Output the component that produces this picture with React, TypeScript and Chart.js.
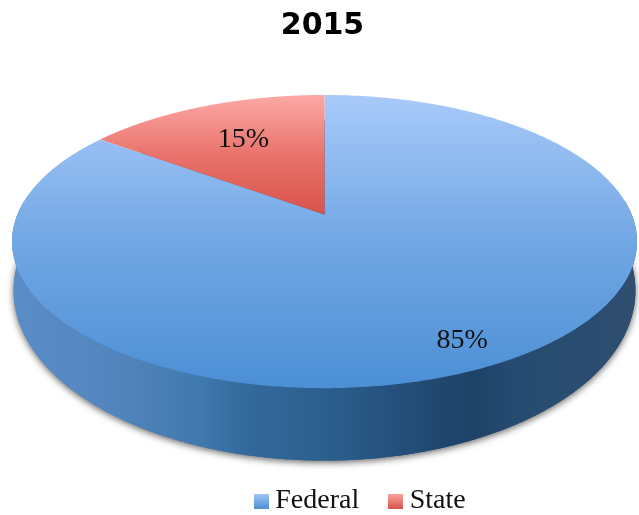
import React, { useEffect, useRef } from "react";
import { Chart, registerables } from "chart.js";

Chart.register(...registerables);

const title = "2015";
const categories = ["Federal", "State"];
const shares = [85, 15];

const topColors = [
  ["#a8cafa", "#72a7e4", "#4b8fd5"],
  ["#fca9a5", "#e9736c", "#d8534a"],
];
const legendColors = [
  ["#a4c8f7", "#4f90d6"],
  ["#f9a6a1", "#d9564c"],
];
const wallStops: [number, string][] = [
  [0, "#5a8dc7"],
  [0.12, "#5588c1"],
  [0.2, "#4f82b9"],
  [0.3, "#4079ad"],
  [0.38, "#33699b"],
  [0.5, "#2c5f8e"],
  [0.6, "#26527f"],
  [0.68, "#21476f"],
  [0.74, "#1f4367"],
  [0.8, "#264a70"],
  [0.86, "#284d70"],
  [0.92, "#2a4c71"],
  [1, "#304e70"],
];

const P = 0.185; // perspective strength
const labelRadius = [0.86, 0.66];

function swatch(colors: string[]) {
  const c = document.createElement("canvas");
  c.width = 15;
  c.height = 15;
  const g = c.getContext("2d")!;
  const lg = g.createLinearGradient(0, 0, 0, 15);
  lg.addColorStop(0, colors[0]);
  lg.addColorStop(1, colors[1]);
  g.fillStyle = lg;
  g.fillRect(0, 0, 15, 15);
  return c;
}

const pie3d = {
  id: "pie3d",
  afterLayout(chart: any) {
    chart.legend.left += 39;
    chart.legend.right += 39;
    chart.titleBlock.left -= 2;
    chart.titleBlock.right -= 2;
  },
  beforeDatasetDraw(chart: any, args: any) {
    const ctx: CanvasRenderingContext2D = chart.ctx;
    const arcs = args.meta.data;
    const { x: cx, y: cy, outerRadius: r } = arcs[0];
    const sx = 307.1 / r;
    const top = (th: number, f = 1) => {
      const u = f * Math.cos(th), v = f * Math.sin(th), w = 1 - P * v;
      return [cx + (sx * r * u) / w, cy - 0.185 * r + (0.966 * r * v) / w];
    };
    const bottom = (th: number) => {
      const u = Math.cos(th), v = Math.sin(th), w = 1 - P * v;
      return [cx + (0.995 * sx * r * u) / w, cy + 0.12 * r + (1.12 * r * v) / w];
    };
    const STEPS = 360;
    const ring = (fn: (t: number) => number[], from: number, to: number, first: boolean) => {
      for (let i = 0; i <= STEPS; i++) {
        const p = fn(from + ((to - from) * i) / STEPS);
        if (i === 0 && first) ctx.moveTo(p[0], p[1]);
        else ctx.lineTo(p[0], p[1]);
      }
    };

    // shadow + side wall
    const wall = ctx.createLinearGradient(cx - 312, 0, cx + 312, 0);
    wallStops.forEach(([s, c]) => wall.addColorStop(s, c));
    ctx.save();
    ctx.shadowColor = "rgba(0,0,0,0.6)";
    ctx.shadowBlur = 7;
    ctx.shadowOffsetY = 2;
    ctx.fillStyle = wall;
    ctx.beginPath();
    ring(bottom, 0, Math.PI * 2, true);
    ctx.closePath();
    ctx.fill();
    ctx.restore();
    ctx.fillStyle = wall;
    ctx.beginPath();
    ring(top, -0.1, Math.PI + 0.1, true);
    ring(bottom, Math.PI + 0.1, -0.1, false);
    ctx.closePath();
    ctx.fill();

    // top faces
    arcs.forEach((arc: any, i: number) => {
      const y0 = cy - 0.185 * r + (0.966 * r * -1) / (1 + P);
      const y1 = i === 0 ? cy + r : cy - 0.185 * r;
      const g = ctx.createLinearGradient(0, y0, 0, y1);
      topColors[i].forEach((c, k) => g.addColorStop(k / 2, c));
      ctx.fillStyle = g;
      ctx.beginPath();
      const c = top(0, 0);
      ctx.moveTo(c[0], c[1]);
      ring(top, arc.startAngle, arc.endAngle, false);
      ctx.closePath();
      ctx.fill();
    });

    // value labels
    ctx.fillStyle = "#111";
    ctx.font = '28px "Liberation Serif"';
    ctx.textAlign = "center";
    ctx.textBaseline = "middle";
    arcs.forEach((arc: any, i: number) => {
      const p = top((arc.startAngle + arc.endAngle) / 2, labelRadius[i]);
      ctx.fillText(shares[i] + "%", p[0] - (i === 0 ? 2 : -2), p[1]);
    });
    return false;
  },
};

export default function App() {
  const ref = useRef<HTMLCanvasElement>(null);
  useEffect(() => {
    document.body.style.margin = "0";
    const chart = new Chart(ref.current!, {
      type: "pie",
      data: {
        labels: categories,
        datasets: [{ data: shares, backgroundColor: ["#72a7e4", "#e9736c"], borderWidth: 0 }],
      },
      options: {
        responsive: false,
        animation: false,
        layout: { padding: { left: 10, top: 0, bottom: -10 } },
        plugins: {
          tooltip: { enabled: false },
          title: {
            display: true,
            text: title,
            color: "#000",
            font: { family: '"DejaVu Sans"', size: 30, weight: "bold" },
            padding: { top: 8, bottom: 51 },
          },
          legend: {
            position: "bottom",
            title: { display: true, text: "", padding: 24, font: { size: 12 } },
            labels: {
              usePointStyle: true,
              pointStyleWidth: 0.01,
              padding: 36.5,
              color: "#111",
              font: { family: '"Liberation Serif"', size: 28 },
              generateLabels: () =>
                categories.map((text, i) => ({
                  text,
                  fillStyle: legendColors[i][0],
                  strokeStyle: "transparent",
                  lineWidth: 0,
                  pointStyle: swatch(legendColors[i]),
                  fontColor: "#111",
                  index: i,
                })),
            },
          },
        },
      } as any,
      plugins: [pie3d],
    } as any);
    return () => chart.destroy();
  }, []);
  return <canvas ref={ref} width={639} height={515} style={{ display: "block" }} />;
}
